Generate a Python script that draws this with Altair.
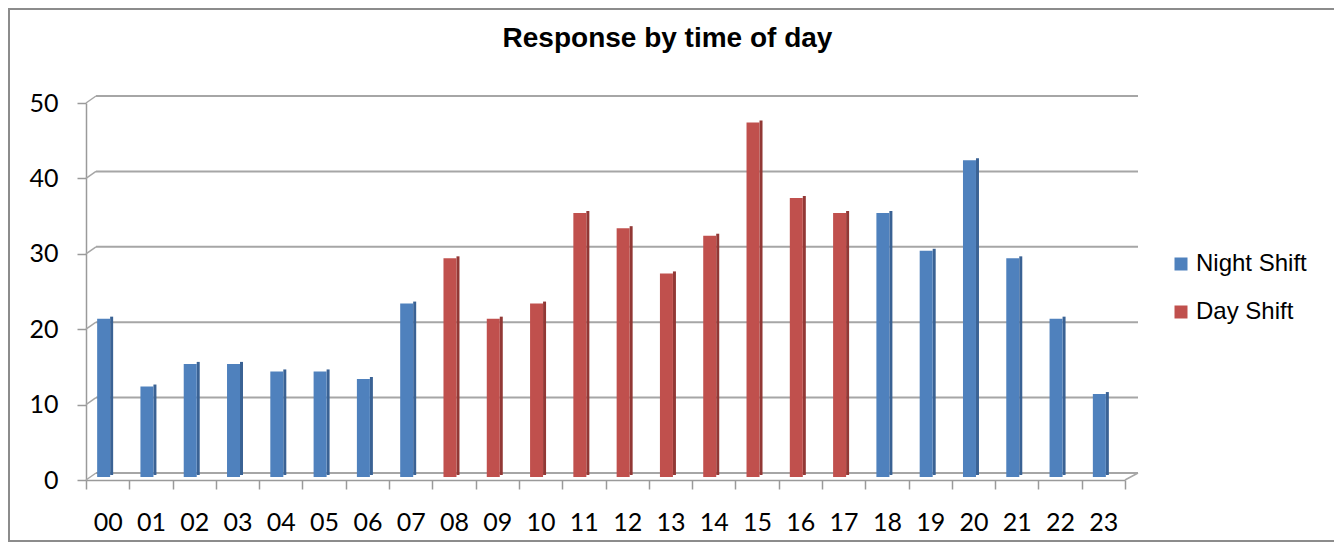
import altair as alt
import pandas as pd

hours = ["00", "01", "02", "03", "04", "05", "06", "07", "08", "09", "10", "11",
         "12", "13", "14", "15", "16", "17", "18", "19", "20", "21", "22", "23"]
responses = [21, 12, 15, 15, 14, 14, 13, 23, 29, 21, 23, 35,
             33, 27, 32, 47, 37, 35, 35, 30, 42, 29, 21, 11]
shifts = ["Night Shift"] * 8 + ["Day Shift"] * 10 + ["Night Shift"] * 6
shift_names = ["Night Shift", "Day Shift"]
y_ticks = [0, 10, 20, 30, 40, 50]
title_text = "Response by time of day"

W, H = 1039, 377
AXIS_FONT = "Lato"
LEG_FONT = "Liberation Sans"
GRID = "#A6A6A6"
AXC = "#9A9A9A"

df = pd.DataFrame({"hour": hours, "value": responses, "shift": shifts})
grid_df = pd.DataFrame({"value": y_ticks})
title_df = pd.DataFrame({"t": [title_text]})

yscale = alt.Scale(domain=[0, 50], nice=False, zero=True)
xscale = alt.Scale(domain=hours, paddingInner=0, paddingOuter=0)

x_axis = alt.Axis(title=None, labelAngle=0, tickBand="extent",
                  labelFont=AXIS_FONT, labelFontSize=25, labelColor="#000000",
                  tickSize=9, tickColor=AXC, tickWidth=1.5,
                  domainColor=AXC, domainWidth=1.5, labelPadding=21,
                  grid=False)
y_axis = alt.Axis(title=None, values=y_ticks, grid=False,
                  labelFont=AXIS_FONT, labelFontSize=25, labelColor="#000000",
                  tickSize=9, tickColor=AXC, tickWidth=1.5,
                  domainColor=AXC, domainWidth=1.5, labelPadding=19)


def xe():
    return alt.X("hour:N", sort=hours, scale=xscale, axis=x_axis)


def ye():
    return alt.Y("value:Q", scale=yscale, axis=y_axis)


# back-wall gridlines
grid = alt.Chart(grid_df).mark_rule(color=GRID, strokeWidth=2, yOffset=-7).encode(
    y=ye(), x=alt.value(10), x2=alt.value(1052))

# left connectors from front axis to back wall
conn = alt.Chart(grid_df).mark_rule(color=GRID, strokeWidth=1.5, y2Offset=-7).encode(
    y=ye(), y2=alt.Y2("value:Q"), x=alt.value(0), x2=alt.value(10))

# right floor connector
floor_r = alt.Chart(grid_df[grid_df["value"] == 0]).mark_rule(
    color=GRID, strokeWidth=1.5, y2Offset=-7).encode(
    y=ye(), y2=alt.Y2("value:Q"), x=alt.value(W), x2=alt.value(1052))

# bar side faces (darker)
side = alt.Chart(df).transform_calculate(
    sc="datum.shift == 'Night Shift' ? '#3A6294' : '#923835'"
).mark_bar(width=3, xOffset=4, yOffset=-5, y2Offset=-3).encode(
    x=xe(), y=ye(),
    fill=alt.Fill("sc:N", scale=None, legend=None))

# bar front faces
bars = alt.Chart(df).mark_bar(width=13, xOffset=-4, yOffset=-3, y2Offset=-3).encode(
    x=xe(), y=ye(),
    color=alt.Color("shift:N", sort=shift_names,
                    scale=alt.Scale(domain=shift_names, range=["#4F81BD", "#C0504D"]),
                    legend=alt.Legend(title=None, orient="none", legendX=1083, legendY=149,
                                      symbolType="square", symbolSize=169,
                                      symbolStrokeWidth=0,
                                      labelFont=LEG_FONT, labelFontSize=24,
                                      labelColor="#000000", rowPadding=24,
                                      labelOffset=3)))

title = alt.Chart(title_df).mark_text(
    font=LEG_FONT, fontSize=28, fontWeight="bold", align="center",
    baseline="alphabetic", color="#000000").encode(
    text="t:N", x=alt.value(581.5), y=alt.value(-56))

# outer chart border
border_left = alt.Chart(title_df).mark_rule(color="#8C8C8C", strokeWidth=2).encode(
    x=alt.value(-77), y=alt.value(-95), y2=alt.value(439))
border_top = alt.Chart(title_df).mark_rule(color="#8C8C8C", strokeWidth=2).encode(
    x=alt.value(-77), x2=alt.value(1260), y=alt.value(-94))
border_bot = alt.Chart(title_df).mark_rule(color="#8C8C8C", strokeWidth=2).encode(
    x=alt.value(-77), x2=alt.value(1260), y=alt.value(438))

chart = alt.layer(
    grid, conn, floor_r, side, bars, title, border_left, border_top, border_bot
).resolve_scale(
    fill="independent", color="independent"
).properties(
    width=W, height=H,
    autosize=alt.AutoSizeParams(type="none"),
    padding={"left": 78, "top": 95, "right": 209, "bottom": 62},
    background="#FFFFFF",
).configure_view(strokeWidth=0)

chart.save("out.html", embed_options={"renderer": "svg", "actions": False})
